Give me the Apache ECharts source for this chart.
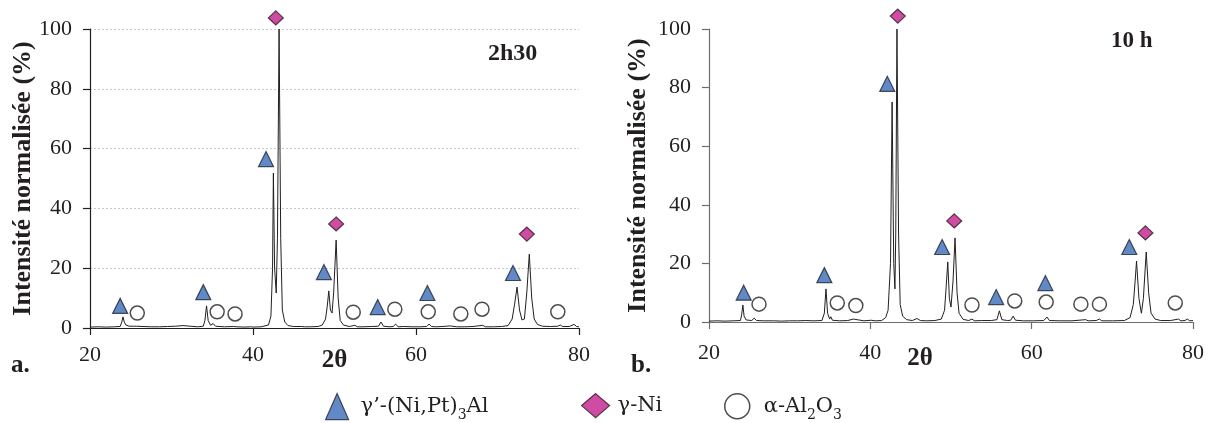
<!DOCTYPE html>
<html>
<head>
<meta charset="utf-8">
<script src="https://cdn.jsdelivr.net/npm/echarts@6/dist/echarts.min.js"></script>
<style>
html,body{margin:0;padding:0;background:#fff;}
#chart{width:1211px;height:423px;}
</style>
</head>
<body>
<div id="chart"></div>
<script>
// ---- Data: sample a. (2h30) ----
const twoTheta_2h30 = [20,21,22,23,23.7,23.9,24.05,24.2,24.4,24.8,25.3,25.5,25.7,26.5,27.5,28.5,29.5,30.5,31.4,32.3,33.2,33.9,34.1,34.3,34.5,34.8,35.1,35.4,36.5,37.6,37.8,38.0,39,39.7,39.9,40.1,41.0,41.9,42.2,42.4,42.5,42.65,42.85,43.0,43.2,43.4,43.6,43.9,44.3,45,46,46.1,46.3,47,48,48.5,48.9,49.1,49.3,49.5,49.7,49.9,50.2,50.45,50.7,51.1,51.8,52.5,52.8,53.5,54.5,55.4,55.7,56.0,56.7,57.2,57.5,57.8,58.5,59.5,60.5,61.3,61.6,61.9,62.5,63.2,64.2,65.0,66,67,68.2,68.5,69.5,70.5,71.3,71.8,72.1,72.4,72.7,73.0,73.3,73.6,73.9,74.2,74.5,74.9,75.5,76.5,77.4,77.7,78.0,78.8,79.4,79.7,80];
const intensity_2h30 = [0.3,0.4,0.3,0.4,0.5,2.0,3.7,2.0,1.0,0.6,0.6,1.2,0.6,0.5,0.4,0.4,0.5,0.6,0.8,0.6,0.4,0.6,2.5,7.4,2.5,0.9,1.5,0.6,0.4,0.5,1.0,0.4,0.3,0.4,0.8,0.3,0.4,1.0,4,20,51.8,20,11.7,30,100,30,6,2,0.8,0.5,0.5,0.9,0.4,0.4,0.5,1.0,3,7,12.4,6,5,12,29.4,10,2.5,1.0,0.5,0.9,0.4,0.4,0.5,0.6,2.0,0.6,0.4,0.5,1.3,0.4,0.5,0.4,0.4,0.5,1.3,0.5,0.4,0.5,0.7,0.4,0.4,0.5,0.9,0.4,0.4,0.5,0.8,3,8,13.7,6,2.7,3,12,24.7,10,3,1.2,0.6,0.5,0.6,1.0,0.5,0.5,1.2,0.5,0.4];
const triangles_2h30 = [[23.7,7.4],[33.9,12.0],[41.6,56.5],[48.7,18.7],[55.3,7.0],[61.4,11.7],[71.9,18.4]];
const diamonds_2h30 = [[42.8,103.7],[50.2,34.8],[73.6,31.4]];
const circles_2h30 = [[25.8,5.0],[35.6,5.4],[37.8,4.7],[52.3,5.3],[57.4,6.3],[61.5,5.4],[65.5,4.7],[68.1,6.3],[77.4,5.4]];

// ---- Data: sample b. (10 h) ----
const twoTheta_10h = [20,21,22,23,23.9,24.05,24.2,24.35,24.6,25.3,25.6,25.9,26.8,28,29,30,31,32,33,34,34.3,34.5,34.7,34.95,35.1,35.3,36.2,37.2,37.9,38.1,39.2,40.1,40.6,41.4,41.9,42.2,42.5,42.7,42.9,43.05,43.15,43.3,43.5,43.7,44.0,44.5,45.2,45.8,46.2,47,48,48.8,49.2,49.4,49.6,49.8,50.0,50.25,50.5,50.75,51.0,51.5,52.2,52.6,52.9,53.8,55,55.7,56.0,56.3,57.0,57.4,57.7,58.0,59,60.2,61.5,61.9,62.2,63.5,65,66.7,67,68.0,68.4,68.7,70,71.5,72.2,72.6,72.8,73.0,73.3,73.6,73.85,74.2,74.5,74.8,75.3,76,77.2,78.2,78.5,79.0,79.3,79.6,80];
const intensity_10h = [0.3,0.4,0.3,0.4,0.5,2.5,5.8,2.0,0.7,0.5,1.3,0.5,0.4,0.4,0.3,0.4,0.4,0.5,0.4,0.5,3,11.3,3,1.0,1.8,0.6,0.4,0.5,1.0,0.4,0.4,0.6,0.4,0.5,1.5,4,20,75.1,20,11.3,30,100,30,6,2,0.8,0.5,1.2,0.5,0.4,0.5,1.0,4,12,20.5,8,5.1,14,28.7,10,3,0.9,0.5,1.0,0.4,0.5,0.5,0.8,3.8,0.8,0.5,0.6,2.0,0.6,0.4,0.4,0.5,1.7,0.5,0.4,0.4,0.8,0.4,0.5,1.0,0.4,0.4,0.5,1.5,6,13,20.8,8,3.0,8,23.9,10,3,1.0,0.5,0.5,1.0,0.4,0.5,1.0,0.4,0.5];
const triangles_10h = [[24.3,10.0],[34.3,16.0],[42.1,81.3],[48.9,25.6],[55.6,8.5],[61.7,13.3],[72.1,25.6]];
const diamonds_10h = [[43.4,104.4],[50.4,34.5],[74.1,30.4]];
const circles_10h = [[26.2,6.1],[35.9,6.5],[38.2,5.6],[52.6,5.8],[57.9,7.2],[61.8,6.8],[66.1,6.1],[68.4,6.1],[77.8,6.5]];

const xTicks = [20, 40, 60, 80];
const yTicks = [0, 20, 40, 60, 80, 100];

const phaseNames = ['γ’-(Ni,Pt)3Al', 'γ-Ni', 'α-Al2O3'];
const richNames = {
  'γ’-(Ni,Pt)3Al': '{t|γ’-(Ni,Pt)}{s|3}{t|Al}',
  'γ-Ni': '{t|γ-Ni}',
  'α-Al2O3': '{t|α-Al}{s|2}{t|O}{s|3}'
};

const SERIF = '"Liberation Serif", "Times New Roman", serif';
const WIDESERIF = '"DejaVu Serif", serif';
const TXT = '#231f20';
const triStyle = {color: '#3a6cb7', borderColor: '#1e2433', borderWidth: 1.2};
const diaStyle = {color: '#c41e8c', borderColor: '#2a1a22', borderWidth: 1.2};
const cirStyle = {color: '#ffffff', borderColor: '#231f20', borderWidth: 1.5};

function pairs(xs, ys) { return xs.map((x, i) => [x, ys[i]]); }

function xAxisFor(idx, axisColor, margin, nameGap, namePad) {
  return {
    gridIndex: idx, type: 'value', min: xTicks[0], max: xTicks[xTicks.length - 1], interval: 20,
    axisLine: {show: true, onZero: false, lineStyle: {color: axisColor, width: 1.2}},
    axisTick: {show: true, inside: false, length: 7, lineStyle: {color: axisColor, width: 1.2}},
    axisLabel: {color: TXT, fontFamily: SERIF, fontSize: 22, margin: margin},
    splitLine: {show: false},
    name: '2θ', nameLocation: 'middle', nameGap: nameGap, nameMoveOverlap: false,
    nameTextStyle: {color: TXT, fontFamily: SERIF, fontSize: 25, fontWeight: 'bold', padding: namePad}
  };
}
function yAxisFor(idx, axisColor, showGrid, nameGap) {
  return {
    gridIndex: idx, type: 'value', min: yTicks[0], max: yTicks[yTicks.length - 1], interval: 20,
    axisLine: {show: true, lineStyle: {color: axisColor, width: 1.2}},
    axisTick: {show: true, inside: false, length: 7, lineStyle: {color: axisColor, width: 1.2}},
    axisLabel: {color: TXT, fontFamily: SERIF, fontSize: 22, margin: 18},
    splitLine: {show: showGrid, lineStyle: {color: '#c8c8c8', type: [2, 2], width: 1}},
    name: 'Intensité normalisée (%)', nameLocation: 'middle', nameGap: nameGap, nameMoveOverlap: false,
    nameTextStyle: {color: TXT, fontFamily: SERIF, fontSize: 26, fontWeight: 'bold'}
  };
}
function markerSeries(idx, tri, dia, cir) {
  return [
    {name: phaseNames[0], type: 'scatter', xAxisIndex: idx, yAxisIndex: idx, symbol: 'triangle', symbolSize: [15, 15], clip: false, itemStyle: triStyle, data: tri, z: 5},
    {name: phaseNames[1], type: 'scatter', xAxisIndex: idx, yAxisIndex: idx, symbol: 'diamond', symbolSize: [15, 14], clip: false, itemStyle: diaStyle, data: dia, z: 5},
    {name: phaseNames[2], type: 'scatter', xAxisIndex: idx, yAxisIndex: idx, symbol: 'circle', symbolSize: 14, clip: false, itemStyle: cirStyle, data: cir, z: 5}
  ];
}
function legendFor(name, icon, style, left, w, h, pad) {
  return {
    data: [{name: name, icon: icon, itemStyle: style}],
    left: left, top: 388, itemWidth: w, itemHeight: h, selectedMode: false,
    formatter: n => richNames[n],
    textStyle: {
      color: TXT, fontFamily: WIDESERIF, fontSize: 21, padding: [0, 0, 0, pad],
      rich: {
        t: {fontFamily: WIDESERIF, fontSize: 21, color: TXT, lineHeight: 32, verticalAlign: 'middle'},
        s: {fontFamily: WIDESERIF, fontSize: 14, color: TXT, lineHeight: 14, verticalAlign: 'bottom'}
      }
    }
  };
}

const chart = echarts.init(document.getElementById('chart'), null, {renderer: 'canvas'});
chart.setOption({
  animation: false,
  backgroundColor: '#ffffff',
  grid: [
    {left: 90, right: 632, top: 29, bottom: 95},
    {left: 709, right: 18, top: 29, bottom: 101}
  ],
  xAxis: [xAxisFor(0, '#231f20', 16, 20, [0, 0, 0, 0]), xAxisFor(1, '#6d6e71', 20, 24, [0, 62, 0, 0])],
  yAxis: [yAxisFor(0, '#231f20', true, 54), yAxisFor(1, '#6d6e71', false, 58)],
  legend: [
    legendFor(phaseNames[0], 'triangle', triStyle, 320, 23, 26, 7),
    legendFor(phaseNames[1], 'diamond', diaStyle, 576, 28, 24, 3),
    legendFor(phaseNames[2], 'circle', cirStyle, 719, 25, 25, 9)
  ],
  series: [
    {name: '2h30', type: 'line', xAxisIndex: 0, yAxisIndex: 0, data: pairs(twoTheta_2h30, intensity_2h30), showSymbol: false, symbol: 'none', lineStyle: {color: '#231f20', width: 1}, z: 3},
    {name: '10 h', type: 'line', xAxisIndex: 1, yAxisIndex: 1, data: pairs(twoTheta_10h, intensity_10h), showSymbol: false, symbol: 'none', lineStyle: {color: '#231f20', width: 1}, z: 3},
    ...markerSeries(0, triangles_2h30, diamonds_2h30, circles_2h30),
    ...markerSeries(1, triangles_10h, diamonds_10h, circles_10h)
  ],
  graphic: [
    {type: 'text', left: 488, top: 42, style: {text: '2h30', fill: TXT, font: 'bold 24px ' + SERIF}},
    {type: 'text', left: 1111, top: 30, style: {text: '10 h', fill: TXT, font: 'bold 23px ' + SERIF}},
    {type: 'text', left: 11, top: 353, style: {text: 'a.', fill: TXT, font: 'bold 25px ' + SERIF}},
    {type: 'text', left: 631, top: 353, style: {text: 'b.', fill: TXT, font: 'bold 25px ' + SERIF}}
  ]
});
</script>
</body>
</html>
